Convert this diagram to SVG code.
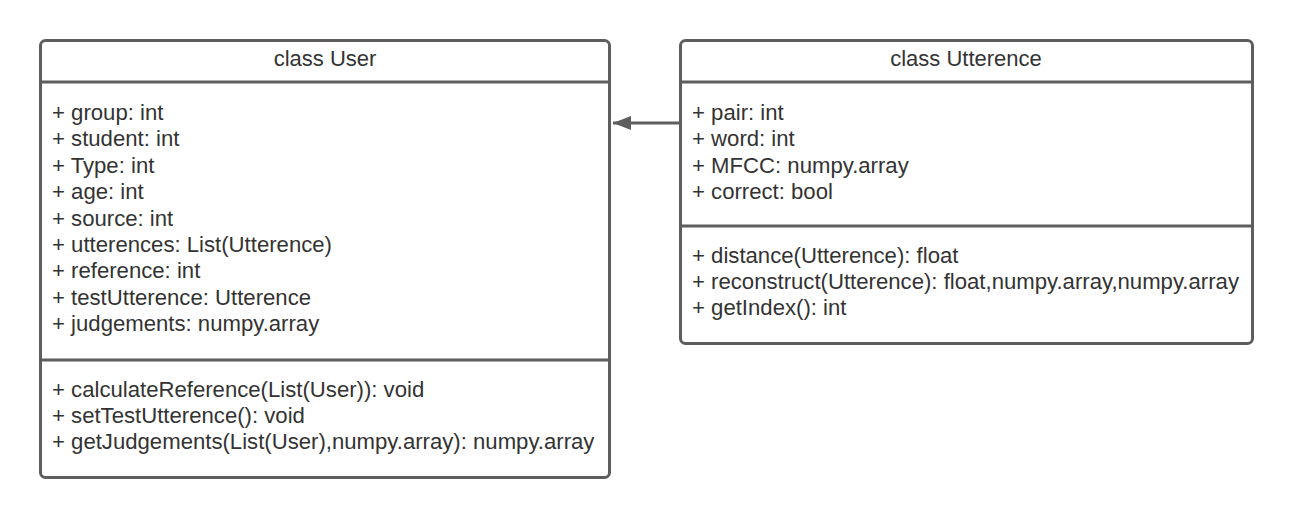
<svg xmlns="http://www.w3.org/2000/svg" width="1293" height="518" viewBox="0 0 1293 518">
<style>
.box{fill:#ffffff;stroke:#5e5e5e;stroke-width:3}
.div{stroke:#5e5e5e;stroke-width:3}
.t{font-family:"Liberation Sans",Arial,sans-serif;font-size:22.15px;fill:#333333}
.h{font-family:"Liberation Sans",Arial,sans-serif;font-size:22px;fill:#333333;text-anchor:middle}
.conn{stroke:#5e5e5e;stroke-width:3;fill:none}
</style>
<defs>
<marker id="arr" viewBox="0 0 18 14" refX="18" refY="7" markerWidth="18" markerHeight="14" markerUnits="userSpaceOnUse" orient="auto">
<path d="M0,0 L18,7 L0,14 Z" fill="#5e5e5e"/>
</marker>
</defs>
<rect width="1293" height="518" fill="#ffffff"/>
<g id="connectors">
<line class="conn" x1="680" y1="123" x2="613" y2="123" marker-end="url(#arr)"/>
</g>
<g id="node-user">
<rect class="box" x="40.5" y="40.5" width="569" height="437" rx="5"/>
<line class="div" x1="40.5" y1="82" x2="609.5" y2="82"/>
<line class="div" x1="40.5" y1="360" x2="609.5" y2="360"/>
<text class="h" x="325" y="65.5">class User</text>
<text class="t" x="52" y="120">+ group: int</text>
<text class="t" x="52" y="146.4">+ student: int</text>
<text class="t" x="52" y="172.8">+ Type: int</text>
<text class="t" x="52" y="199.2">+ age: int</text>
<text class="t" x="52" y="225.6">+ source: int</text>
<text class="t" x="52" y="252">+ utterences: List(Utterence)</text>
<text class="t" x="52" y="278.4">+ reference: int</text>
<text class="t" x="52" y="304.8">+ testUtterence: Utterence</text>
<text class="t" x="52" y="331.2">+ judgements: numpy.array</text>
<text class="t" x="52" y="396.5">+ calculateReference(List(User)): void</text>
<text class="t" x="52" y="422.9">+ setTestUtterence(): void</text>
<text class="t" x="52" y="449.3">+ getJudgements(List(User),numpy.array): numpy.array</text>
</g>
<g id="node-utterence">
<rect class="box" x="680.5" y="40.5" width="572" height="303" rx="5"/>
<line class="div" x1="680.5" y1="82" x2="1252.5" y2="82"/>
<line class="div" x1="680.5" y1="226" x2="1252.5" y2="226"/>
<text class="h" x="966" y="65.5">class Utterence</text>
<text class="t" x="692" y="120">+ pair: int</text>
<text class="t" x="692" y="146.4">+ word: int</text>
<text class="t" x="692" y="172.8">+ MFCC: numpy.array</text>
<text class="t" x="692" y="199.2">+ correct: bool</text>
<text class="t" x="692" y="263">+ distance(Utterence): float</text>
<text class="t" x="692" y="289.2">+ reconstruct(Utterence): float,numpy.array,numpy.array</text>
<text class="t" x="692" y="315.4">+ getIndex(): int</text>
</g>
</svg>
